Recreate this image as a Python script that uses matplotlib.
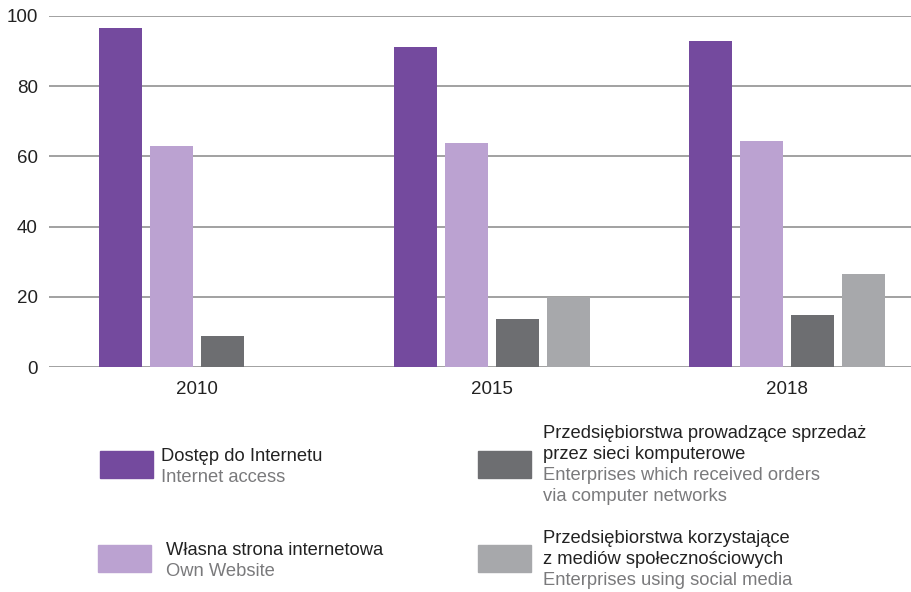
import numpy as np
import matplotlib.pyplot as plt
from matplotlib.patches import Rectangle

plt.rcParams['font.family'] = ['Liberation Sans', 'DejaVu Sans']

years = ['2010', '2015', '2018']
internet_access = [96.6, 91.2, 92.9]
own_website = [63.0, 63.8, 64.4]
orders_networks = [8.8, 13.7, 14.8]
social_media = [np.nan, 19.9, 26.5]

series = [internet_access, own_website, orders_networks, social_media]
colors = ['#744a9e', '#bba2d1', '#6d6e71', '#a7a8ab']
labels_pl = [['Dostęp do Internetu'], ['Własna strona internetowa'],
             ['Przedsiębiorstwa prowadzące sprzedaż', 'przez sieci komputerowe'],
             ['Przedsiębiorstwa korzystające', 'z mediów społecznościowych']]
labels_en = [['Internet access'], ['Own Website'],
             ['Enterprises which received orders', 'via computer networks'],
             ['Enterprises using social media']]

W, H = 911, 592
fig = plt.figure(figsize=(W / 100, H / 100), dpi=100)
ax = fig.add_axes([49 / W, (H - 367) / H, 1 - 49 / W, (367 - 16) / H])

x = np.arange(len(years))
step = 0.173
width = 0.146
for i, (vals, c) in enumerate(zip(series, colors)):
    ax.bar(x + (i - 1.5) * step, vals, width=width, color=c, zorder=3)

ax.set_xlim(-0.502, 2.42)
ax.set_ylim(0, 100)
ax.set_yticks([0, 20, 40, 60, 80, 100])
ax.set_xticks(x)
ax.set_xticklabels(years)
ax.yaxis.grid(True, color='#9a9a9a', linewidth=1.3, zorder=0)
ax.set_axisbelow(True)
for s in ax.spines.values():
    s.set_visible(False)
ax.tick_params(axis='both', length=0, labelsize=13.5, colors='#222222')
ax.tick_params(axis='y', pad=8)
ax.tick_params(axis='x', pad=10)


def px(xp, yp):
    return xp / W, 1 - yp / H


# legend drawn by hand, two columns
patch_pos = [(100, 451), (98, 545), (478, 451), (478, 545)]
text_pos = [(161, 461), (166, 555), (543, 438), (543, 543)]
line_h = 21
for i in range(4):
    xp, yp = patch_pos[i]
    fx, fy = px(xp, yp + 27)
    fig.patches.append(Rectangle((fx, fy), 53 / W, 27 / H, color=colors[i],
                                 transform=fig.transFigure, figure=fig))
    tx, ty = text_pos[i]
    lines = [(t, '#222222') for t in labels_pl[i]] + \
            [(t, '#7a7a7c') for t in labels_en[i]]
    for k, (t, col) in enumerate(lines):
        fig.text(*px(tx, ty + k * line_h), t, fontsize=13.2, color=col,
                 va='baseline')

fig.savefig('out.png', dpi=100)
